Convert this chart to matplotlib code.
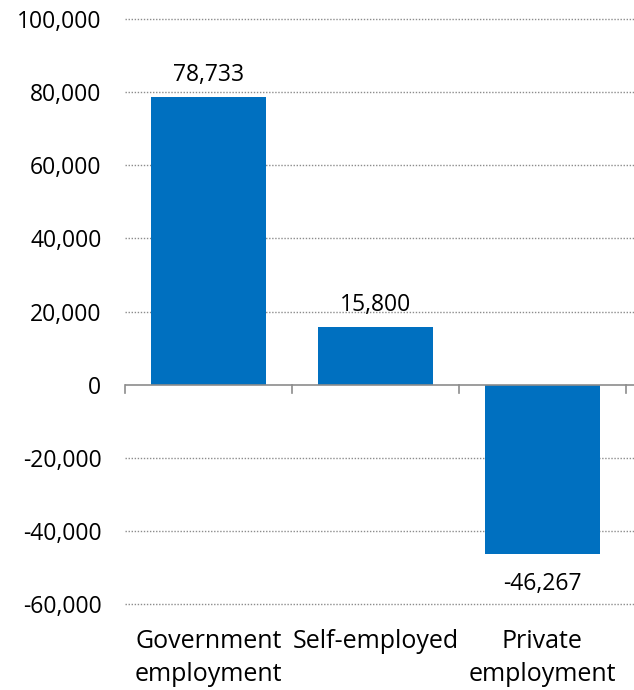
import numpy as np
import matplotlib.pyplot as plt

# data
categorias = ['Government\nemployment', 'Self-employed', 'Private\nemployment']
valores = [78733, 15800, -46267]
ticks_y = [-60000, -40000, -20000, 0, 20000, 40000, 60000, 80000, 100000]

plt.rcParams['font.family'] = ['Open Sans', 'DejaVu Sans']

fig = plt.figure(figsize=(6.34, 6.90), dpi=100)
ax = fig.add_axes([125/634, 1 - 604/690, 509/634, 585/690])

x = np.arange(len(categorias))
ax.bar(x, valores, width=0.69, color='#0070C0', zorder=3)

# etiquetas de valores
for xi, v in zip(x, valores):
    if v >= 0:
        ax.text(xi, v + 2800, f'{v:,}', ha='center', va='bottom', fontsize=16.5)
    else:
        ax.text(xi, v - 5000, f'{v:,}', ha='center', va='top', fontsize=16.5)

ax.set_ylim(-60000, 100000)
ax.set_xlim(-0.5, 2.55)
ax.set_yticks(ticks_y)
ax.set_yticklabels([f'{t:,}' for t in ticks_y], fontsize=16.5)
ax.tick_params(axis='y', length=0, pad=17)

# cuadricula punteada
for t in ticks_y:
    if t != 0:
        ax.axhline(t, color='#8c8c8c', linestyle=(0, (1, 1.2)), linewidth=1,
                   zorder=1, clip_on=False)
ax.axhline(0, color='#8c8c8c', linewidth=1.2, zorder=4)

# etiquetas de categorias
ax.set_xticks(x)
ax.set_xticklabels(categorias, fontsize=18, linespacing=1.4)
ax.tick_params(axis='x', which='major', length=0, pad=18)

for s in ax.spines.values():
    s.set_visible(False)

# marcas del eje x entre categorias
for xm in [-0.5, 0.5, 1.5, 2.5]:
    ax.plot([xm, xm], [0, -2200], color='#8c8c8c', linewidth=1.2, zorder=4, clip_on=False)

plt.savefig('out.png', dpi=100)
